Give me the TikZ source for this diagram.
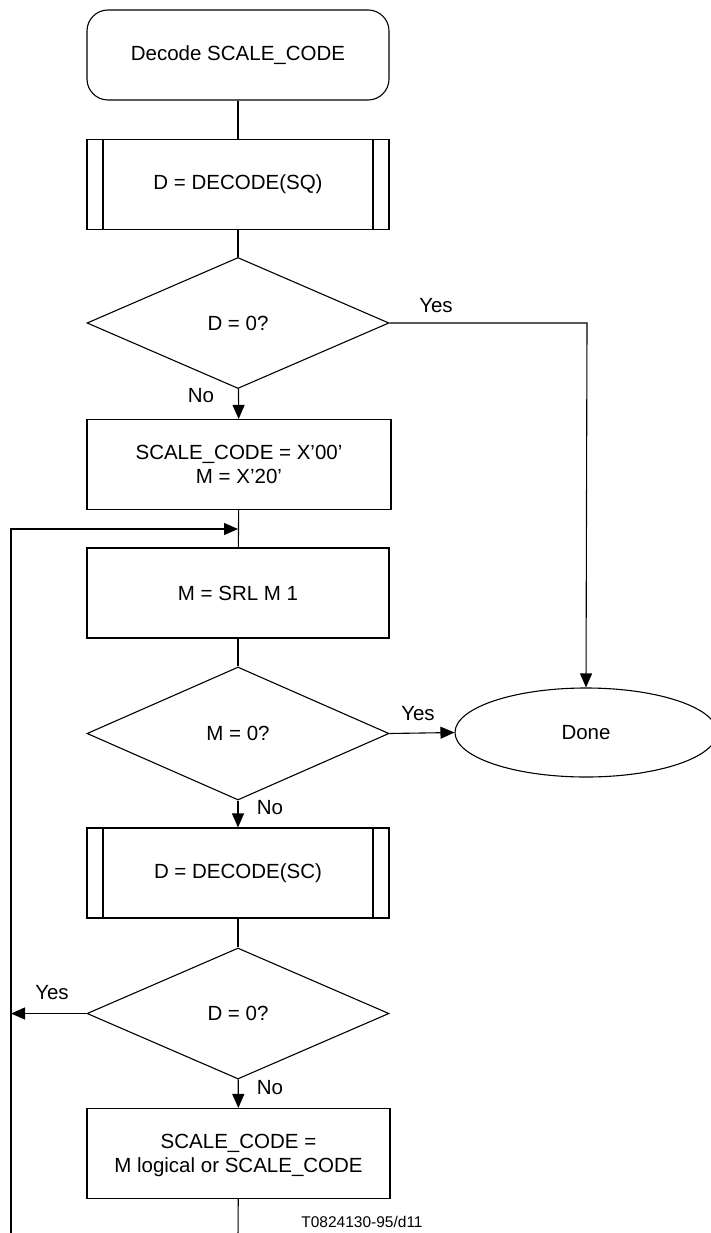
\documentclass[tikz,border=0pt]{standalone}
\usepackage{fontspec}
\setmainfont{Liberation Sans}
\usetikzlibrary{shapes.geometric,arrows.meta}

\begin{document}
\begin{tikzpicture}[x=1pt,y=-1pt,
  line width=1.1pt,
  font=\fontsize{20.5}{23.5}\selectfont,
  box/.style={draw, rectangle, align=center, minimum width=302pt, minimum height=90pt, inner sep=0pt},
  prebox/.style={box, path picture={
    \draw[line width=1.8pt] ([xshift=16pt]path picture bounding box.north west) -- ([xshift=16pt]path picture bounding box.south west);
    \draw[line width=1.8pt] ([xshift=-16pt]path picture bounding box.north east) -- ([xshift=-16pt]path picture bounding box.south east);}},
  term/.style={box, rounded corners=21pt},
  test/.style={draw, diamond, minimum width=302pt, minimum height=131pt, inner sep=0pt},
  endnode/.style={draw, ellipse, minimum width=262pt, minimum height=89pt, inner sep=0pt},
  arr/.style={-{Triangle[length=14pt,width=12pt]}},
  lbl/.style={inner sep=0pt}]
  \useasboundingbox (0,0) rectangle (710,1233);

  % Steps
  \node[term]   (start) at (238,55)     {Decode SCALE\_CODE};
  \node[prebox] (decsq) at (238,184.5)  {D = DECODE(SQ)};
  \node[test]   (dzero) at (238,323)    {D = 0?};
  \node[box, minimum width=304pt] (init) at (239,464.5) {SCALE\_CODE = X'00'\\M = X'20'};
  \node[box]    (shift) at (238,593)    {M = SRL M 1};
  \node[test, minimum height=133pt] (mzero) at (238,733.5) {M = 0?};
  \node[endnode] (done) at (586,732.5)  {Done};
  \node[prebox] (decsc) at (238,873)    {D = DECODE(SC)};
  \node[test]   (dzerob) at (238,1013.5) {D = 0?};
  \node[box, minimum width=303pt, text depth=0pt] (setsc) at (238.5,1153.5) {SCALE\_CODE =\\[1pt]M logical or SCALE\_CODE};

  % Corners of the connectors
  \coordinate (yescorner) at (587,323);
  \coordinate (loopin) at (238,529);
  \coordinate (looptop) at (11,529);
  \coordinate (loopbot) at (11,1240);
  \coordinate (exit) at (238,1240);

  % Main flow
  \draw (start) -- (decsq);
  \draw (decsq) -- (dzero);
  \draw[arr] (dzero) -- (init);
  \draw (init) -- (shift);
  \draw (shift) -- (mzero);
  \draw[arr] (mzero) -- (decsc);
  \draw (decsc) -- (dzerob);
  \draw[arr] (dzerob) -- (setsc);
  \draw (setsc) -- (exit);

  % Exits to Done
  \draw[arr] (dzero.east) -- (yescorner) -- (done.north);
  \draw[arr] (mzero.east) -- (done.west);

  % Loop back
  \draw[arr] (dzerob.west) -- (dzerob.west -| looptop);
  \draw[arr] (loopbot) -- (looptop) -- (loopin);

  % Labels
  \node[lbl] (yesa) at (436,306)  {Yes};
  \node[lbl] (noa)  at (201,396)  {No};
  \node[lbl] (yesb) at (418,714)  {Yes};
  \node[lbl] (nob)  at (270,808)  {No};
  \node[lbl] (yesc) at (52,993)   {Yes};
  \node[lbl] (noc)  at (270,1088) {No};
  \node[lbl, font=\fontsize{15.5}{18}\selectfont] (fig) at (362,1222) {T0824130-95/d11};
\end{tikzpicture}
\end{document}
